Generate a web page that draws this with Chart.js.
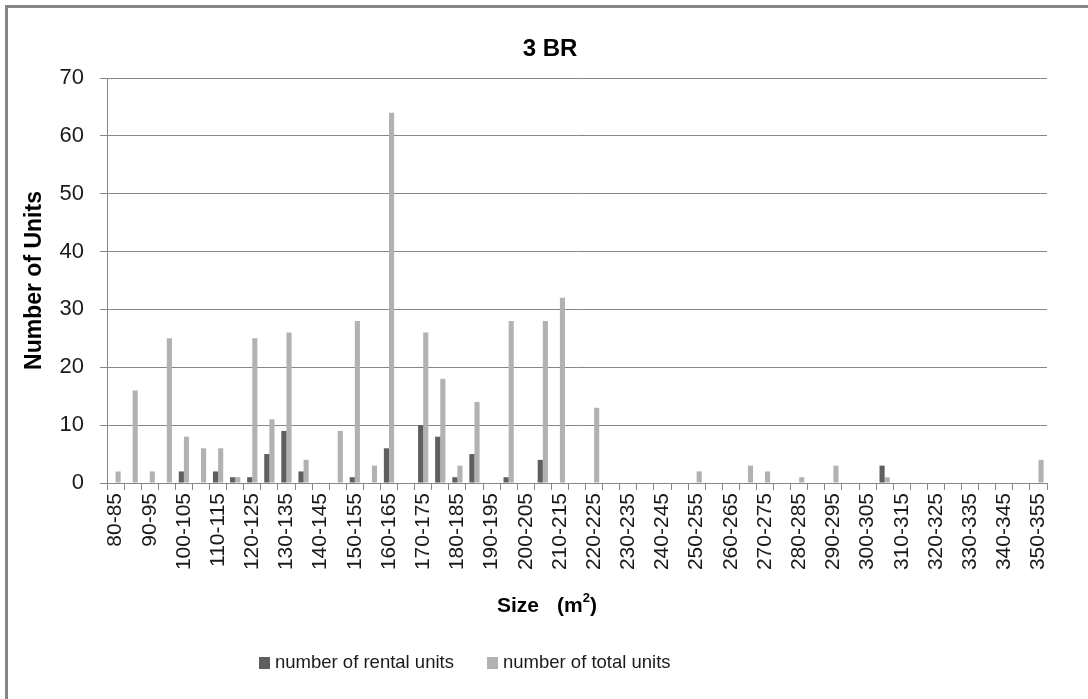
<!DOCTYPE html>
<html>
<head>
<meta charset="utf-8">
<script src="https://cdn.jsdelivr.net/npm/chart.js@4.4.0/dist/chart.umd.min.js"></script>
<style>
  html, body { margin: 0; padding: 0; background: #fff; }
  #wrap { width: 1088px; height: 699px; }
</style>
</head>
<body>
<div id="wrap"><canvas id="chart" width="1088" height="699"></canvas></div>
<script>
// data
var sizeBins = ['80-85','85-90','90-95','95-100','100-105','105-110','110-115','115-120','120-125','125-130',
  '130-135','135-140','140-145','145-150','150-155','155-160','160-165','165-170','170-175','175-180',
  '180-185','185-190','190-195','195-200','200-205','205-210','210-215','215-220','220-225','225-230',
  '230-235','235-240','240-245','245-250','250-255','255-260','260-265','265-270','270-275','275-280',
  '280-285','285-290','290-295','295-300','300-305','305-310','310-315','315-320','320-325','325-330',
  '330-335','335-340','340-345','345-350','350-355']
var rentalUnits = [0,0,0,0,2,0,2,1,1,5, 9,2,0,0,1,0,6,0,10,8, 1,5,0,1,0,4,0,0,0,0,
  0,0,0,0,0,0,0,0,0,0, 0,0,0,0,0,3,0,0,0,0, 0,0,0,0,0]
var totalUnits = [2,16,2,25,8,6,6,1,25,11, 26,4,0,9,28,3,64,0,26,18, 3,14,0,28,0,28,32,0,13,0,
  0,0,0,0,2,0,0,3,2,0, 1,0,3,0,0,1,0,0,0,0, 0,0,0,0,4]
var yTicks = [0,10,20,30,40,50,60,70]
var seriesNames = ['number of rental units', 'number of total units']

window.onload = function(){
  var ctx = document.getElementById('chart')
  var gridGray = '#868686'
  var barColors = ['#5f5f5f', '#b2b2b2']
  Chart.defaults.font.family = "'Liberation Sans', Arial, sans-serif"
  Chart.defaults.color = '#1a1a1a'

  // frame, title, x title and legend drawn like the excel layout
  var excelBits = {
    id: 'excelBits',
    beforeDraw: function(chart){
      var c = chart.ctx
      c.save()
      c.fillStyle = '#fff'
      c.fillRect(0, 0, chart.width, chart.height)
      c.fillStyle = gridGray
      c.fillRect(5, 5, chart.width - 5, 3)
      c.fillRect(5, 5, 3, chart.height - 5)
      c.restore()
    },
    afterDraw: function(chart){
      var c = chart.ctx
      c.save()
      c.fillStyle = '#000'
      c.textBaseline = 'middle'
      c.textAlign = 'center'
      c.font = "bold 24px 'Liberation Sans', Arial"
      c.fillText('3 BR', 550, 49)

      // x axis title with superscript
      c.textAlign = 'left'
      c.font = "bold 21px 'Liberation Sans', Arial"
      c.fillText('Size', 497, 606)
      c.fillText('(m', 557, 606)
      var w = c.measureText('(m').width
      c.font = "bold 13px 'Liberation Sans', Arial"
      c.fillText('2', 557 + w, 598)
      var w2 = c.measureText('2').width
      c.font = "bold 21px 'Liberation Sans', Arial"
      c.fillText(')', 557 + w + w2, 606)

      // legend
      var legendX = [259, 487]
      c.font = "18.5px 'Liberation Sans', Arial"
      for (var i = 0; i < seriesNames.length; i++){
        c.fillStyle = barColors[i]
        c.fillRect(legendX[i], 657, 11, 12)
        c.fillStyle = '#1a1a1a'
        c.fillText(seriesNames[i], legendX[i] + 16, 663)
      }
      c.restore()
    }
  }

  var ReportChart = new Chart(ctx, {
    type: 'bar',
    data: {
      labels: sizeBins,
      datasets: [
        { label: seriesNames[0], data: rentalUnits, backgroundColor: barColors[0], categoryPercentage: 0.6, barPercentage: 1.0 },
        { label: seriesNames[1], data: totalUnits, backgroundColor: barColors[1], categoryPercentage: 0.6, barPercentage: 1.0 }
      ]
    },
    options: {
      responsive: false,
      animation: false,
      layout: { padding: { top: 78, right: 41, left: 0, bottom: 0 } },
      plugins: {
        legend: { display: false },
        title: { display: false },
        tooltip: { enabled: false }
      },
      scales: {
        x: {
          grid: { drawOnChartArea: false, drawTicks: true, tickLength: 7, color: gridGray, offset: true },
          border: { color: gridGray, width: 1 },
          ticks: {
            autoSkip: false,
            minRotation: 90,
            maxRotation: 90,
            padding: 3,
            font: { size: 21 },
            callback: function(v, i){ return i % 2 === 0 ? sizeBins[i] : '' }
          },
          afterFit: function(scale){ scale.height = 216 }
        },
        y: {
          min: 0,
          max: 70,
          afterBuildTicks: function(scale){
            scale.ticks = yTicks.map(function(t){ return { value: t } })
          },
          grid: { color: gridGray, tickLength: 7, drawTicks: true },
          border: { color: gridGray, width: 1 },
          ticks: { padding: 16, font: { size: 22 } },
          title: {
            display: true,
            text: 'Number of Units',
            color: '#000',
            font: { size: 23, weight: 'bold' },
            padding: { top: 21, bottom: 0 }
          },
          afterFit: function(scale){ scale.width = 107 }
        }
      }
    },
    plugins: [excelBits]
  })
}
</script>
</body>
</html>
